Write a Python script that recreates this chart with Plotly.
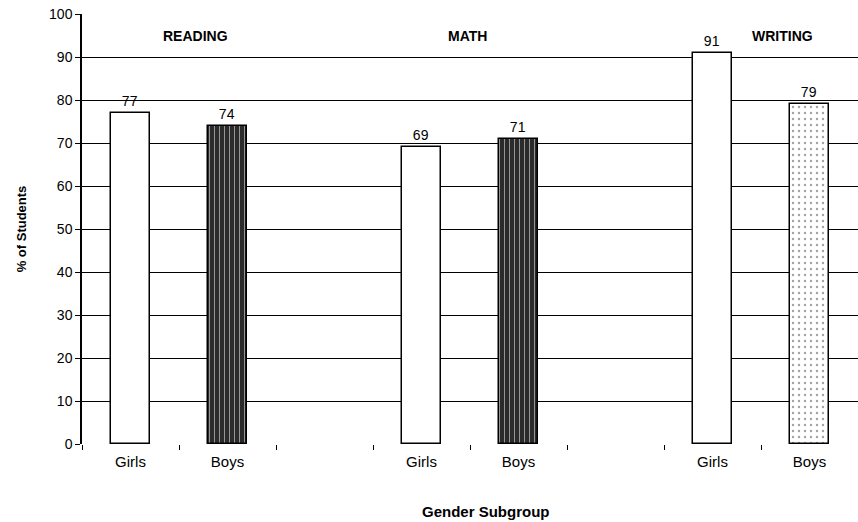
import plotly.graph_objects as go

# Percent of students by subject and gender
subjects = ["READING", "MATH", "WRITING"]
genders = ["Girls", "Boys"]
girls_pct = [77, 69, 91]
boys_pct = [74, 71, 79]
y_ticks = [0, 10, 20, 30, 40, 50, 60, 70, 80, 90, 100]

# Each subject takes three slots: Girls, Boys, and an empty spacer slot
girls_x = [3 * i for i in range(len(subjects))]
boys_x = [3 * i + 1 for i in range(len(subjects))]

FONT = "Liberation Sans, Arial, sans-serif"

fig = go.Figure()

fig.add_trace(go.Bar(
    x=girls_x, y=girls_pct, width=0.41,
    marker=dict(color="white", line=dict(color="black", width=1.5)),
    text=[str(v) for v in girls_pct], textposition="outside",
    textfont=dict(family=FONT, size=14, color="black"),
    cliponaxis=False, showlegend=False,
))

# Reading and Math boys: dark grainy fill; Writing boys: light speckle
boys_fill = ["#2b2b2b", "#2b2b2b", "white"]
boys_dots = ["#cfcfcf", "#cfcfcf", "#666666"]
boys_shape = ["|", "|", "."]
boys_size = [5, 5, 6]
boys_solid = [0.2, 0.2, 0.12]
fig.add_trace(go.Bar(
    x=boys_x, y=boys_pct, width=0.41,
    marker=dict(
        color=boys_fill,
        line=dict(color="black", width=1.5),
        pattern=dict(shape=boys_shape, fgcolor=boys_dots, bgcolor=boys_fill,
                     size=boys_size, solidity=boys_solid, fillmode="overlay"),
    ),
    text=[str(v) for v in boys_pct], textposition="outside",
    textfont=dict(family=FONT, size=14, color="black"),
    cliponaxis=False, showlegend=False,
))

# Subject headers over each group
header_x = [0.67, 3.47, 6.72]
for name, hx in zip(subjects, header_x):
    fig.add_annotation(x=hx, y=95, text=f"<b>{name}</b>", showarrow=False,
                       font=dict(family=FONT, size=14, color="black"))

# x-axis title, set slightly right of the plot centre
fig.add_annotation(x=0.521, xref="paper", y=-0.158, yref="paper",
                   yanchor="middle", text="<b>Gender Subgroup</b>",
                   showarrow=False, font=dict(family=FONT, size=15, color="black"))

tick_vals = girls_x + boys_x
tick_text = [genders[0]] * len(girls_x) + [genders[1]] * len(boys_x)

fig.update_layout(
    width=858, height=522,
    margin=dict(l=82, r=0, t=14, b=78),
    paper_bgcolor="white", plot_bgcolor="white",
    font=dict(family=FONT, size=14, color="black"),
    bargap=0,
    xaxis=dict(
        range=[-0.5, 7.5],
        tickmode="array", tickvals=tick_vals, ticktext=tick_text,
        ticks="", showgrid=False, zeroline=False,
        showline=False, ticklabelstandoff=7,
        minor=dict(ticks="outside", tick0=0.5, dtick=1, ticklen=5,
                   tickcolor="black", tickwidth=1, showgrid=False),
        tickfont=dict(family=FONT, size=15),
    ),
    yaxis=dict(
        range=[0, 100], tickmode="array", tickvals=y_ticks,
        ticks="outside", ticklen=5, tickcolor="black",
        showgrid=True, gridcolor="black", gridwidth=1,
        showline=True, linecolor="black", linewidth=1.5,
        zeroline=False,
        title=dict(text="<b>% of Students</b>", standoff=20,
                   font=dict(family=FONT, size=13)),
        tickfont=dict(family=FONT, size=14),
    ),
)

fig.write_html("out.html")
